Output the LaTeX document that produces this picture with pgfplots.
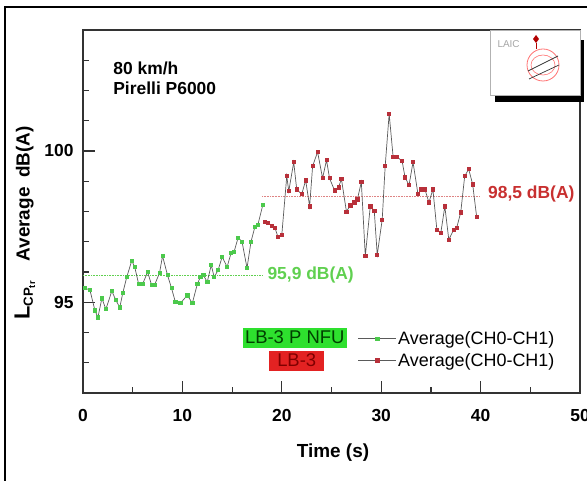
\documentclass[border=0pt]{standalone}
\usepackage{fontspec}
\setmainfont{Liberation Sans}
\usepackage{pgfplots}
\pgfplotsset{compat=1.18}

\definecolor{ptgreen}{HTML}{4CC94C}
\definecolor{ptred}{HTML}{B8303A}
\definecolor{lineg}{HTML}{5A5A5A}
\definecolor{boxgreen}{HTML}{2EE02E}
\definecolor{boxred}{HTML}{E32222}
\definecolor{avggreen}{HTML}{60D050}
\definecolor{avgred}{HTML}{C83030}

\begin{document}
\begin{tikzpicture}[x=1bp,y=1bp]
\useasboundingbox (0,0) rectangle (587,481);
\clip (0,0) rectangle (587,481);
% outer frame
\draw[line width=1.5bp] (5,-20) -- (5,474) -- (600,474);

\begin{axis}[
  at={(83bp,88bp)}, anchor=south west,
  scale only axis, width=497bp, height=363bp,
  xmin=0, xmax=50, ymin=92, ymax=104,
  xtick={0,10,...,50}, minor xtick={5,15,...,45},
  ytick={95,100}, minor ytick={92,...,104},
  tick pos=left, tick align=inside,
  x tick style={line width=1.2bp, black!80},
  y tick style={line width=1.2bp, black!80},
  major tick length=12bp, minor tick length=6bp,
  axis line style={line width=1.3bp, black!80},
  ticklabel style={font=\fontsize{17.5}{17.5}\selectfont\bfseries},
  /pgf/number format/assume math mode=true,
  xticklabel style={yshift=-13bp},
  yticklabel style={xshift=-6bp},
  xlabel={\bfseries Time (s)},
  xlabel style={font=\fontsize{19}{19}\selectfont, at={(axis description cs:0.503,-0.165)}, anchor=center},
  ylabel={\bfseries {\fontsize{22}{22}\selectfont L}\textsubscript{CP\textsubscript{tr}}\quad Average\enspace dB(A)},
  ylabel style={font=\fontsize{19}{19}\selectfont, at={(axis description cs:-0.117,0.468)}, anchor=center},
  legend style={at={(axis description cs:0.553,0.174)}, anchor=north west,
    draw=none, fill=none, font=\fontsize{18}{19}\selectfont,
    row sep=4bp, inner sep=0pt,
    nodes={inner sep=1.5bp}},
  legend cell align=left,
  legend image code/.code={\draw[#1, mark repeat=2, mark phase=2] plot coordinates {(0bp,0bp) (19bp,0bp) (38bp,0bp)};},
  clip=false,
]

% average levels
\addplot[avggreen, densely dotted, line width=0.6bp, forget plot] coordinates {(0,95.9) (18,95.9)};
\addplot[avgred!60, densely dotted, line width=0.6bp, forget plot] coordinates {(18,98.5) (40,98.5)};

% LB-3 P NFU
\addplot[lineg, line width=0.7bp, mark=square*, mark size=1.6bp,
  mark options={draw=ptgreen, fill=ptgreen}] coordinates {
  (0.2,95.47) (0.7,95.4) (1.2,94.73) (1.5,94.5) (1.9,95.13) (2.3,94.77)
  (2.9,95.37) (3.3,95.07) (3.7,94.83) (4.0,95.3) (4.4,95.83) (4.9,96.37)
  (5.2,96.17) (5.6,95.6) (6.0,95.6) (6.5,96.0) (6.9,95.57) (7.2,95.57)
  (7.7,95.97) (8.0,96.53) (8.5,95.9) (8.9,95.47) (9.3,95.0) (9.8,94.97)
  (10.5,95.23) (11.0,94.97) (11.5,95.6) (11.8,95.83) (12.1,95.9) (12.5,95.67)
  (12.9,96.23) (13.2,95.83) (13.6,96.07) (14.0,96.5) (14.5,96.17) (14.9,96.63)
  (15.2,96.67) (15.6,97.13) (16.0,97.0) (16.5,96.13) (16.9,97.0) (17.3,97.5)
  (17.6,97.57) (18.1,98.23)
};
\addlegendentry{Average(CH0-CH1)}

% LB-3
\addplot[lineg, line width=0.7bp, mark=square*, mark size=1.6bp,
  mark options={draw=ptred, fill=ptred}] coordinates {
  (18.3,97.67) (18.6,97.63) (19.0,97.53) (19.3,97.47) (19.6,97.17) (20.0,97.23)
  (20.5,99.17) (20.7,98.67) (21.2,99.63) (21.5,98.73) (22.0,98.57) (22.4,99.03)
  (22.8,98.17) (23.1,99.5) (23.6,99.97) (24.1,99.1) (24.5,99.7) (24.8,99.1)
  (25.3,98.7) (25.7,98.8) (26.0,99.07) (26.5,98.0) (26.9,98.2) (27.3,98.3)
  (27.6,98.4) (28.0,98.97) (28.4,96.53) (28.9,98.17) (29.3,98.03) (29.6,96.57)
  (30.1,97.73) (30.4,99.5) (30.8,101.23) (31.2,99.8) (31.6,99.8) (32.1,99.67)
  (32.4,99.13) (32.8,98.87) (33.2,99.63) (33.7,98.57) (34.0,98.73) (34.4,98.73)
  (34.8,98.3) (35.2,98.73) (35.6,97.4) (36.0,97.3) (36.4,98.17) (36.8,97.07)
  (37.3,97.4) (37.6,97.47) (38.0,97.97) (38.4,99.17) (38.8,99.4) (39.2,98.9)
  (39.6,97.83)
};
\addlegendentry{Average(CH0-CH1)}

\node[anchor=west, font=\fontsize{17.5}{17.5}\selectfont\bfseries] at (axis cs:2.7,102.73) {80 km/h};
\node[anchor=west, font=\fontsize{17.5}{17.5}\selectfont\bfseries] at (axis cs:2.7,102.07) {Pirelli P6000};
\node[font=\fontsize{17.5}{17.5}\selectfont\bfseries, text=avggreen] at (axis cs:22.9,95.9) {95,9 dB(A)};
\node[font=\fontsize{17.5}{17.5}\selectfont\bfseries, text=avgred] at (axis cs:45.1,98.57) {98,5 dB(A)};

\node[fill=boxgreen, text=black!75!green, minimum width=104bp, minimum height=20bp, inner sep=0pt,
  font=\fontsize{18.5}{18.5}\selectfont] at (axis cs:21.3,93.83) {LB-3 P NFU};
\node[fill=boxred, text=red!50!black, minimum width=55bp, minimum height=20bp, inner sep=0pt,
  font=\fontsize{18.5}{18.5}\selectfont] at (axis cs:21.5,93.07) {LB-3};
\end{axis}

% logo
\fill[black] (495,379) rectangle (584,441);
\filldraw[fill=white, draw=gray!60, line width=0.6bp] (490,386) rectangle (580,451);
\node[text=gray!70, font=\fontsize{10}{10}\selectfont, anchor=west] at (494,437) {LAIC};
\draw[red!55, line width=0.8bp] (543,416) circle (16);
\draw[red!55, line width=0.6bp] (543,416) ellipse (12 and 10);
\draw[black!80, line width=0.7bp] (528,410) -- (558,425);
\draw[black!80, line width=0.7bp] (529,402) -- (559,416);
\fill[red!70!black] (536,446) -- (539,442) -- (536,438) -- (533,442) -- cycle;
\draw[red!70!black, line width=0.6bp] (536,438) -- (536,432);
\end{tikzpicture}
\end{document}
